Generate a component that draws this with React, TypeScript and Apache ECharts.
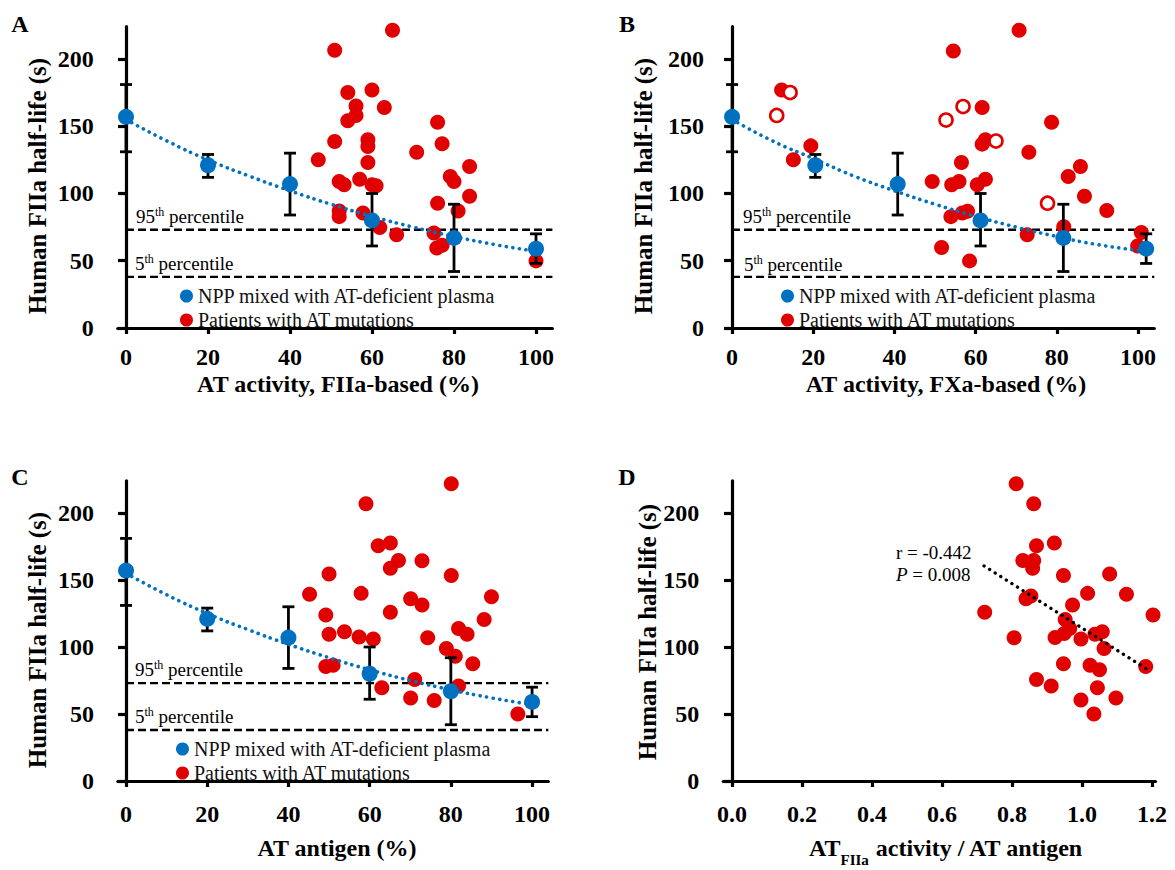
import React, { useEffect, useRef } from "react";
import * as echarts from "echarts";

const FONT = '"Liberation Serif", "Times New Roman", serif';
const RED = "#E00000";
const BLUE = "#0070C0";

const NAME_NPP = "NPP mixed with AT-deficient plasma";
const NAME_PAT = "Patients with AT mutations";

// NPP dilution series (means and SD bounds)
const NPP_X_A = [0, 20, 40, 60, 80, 100];
const NPP_X_B = [0, 20.5, 40.8, 61.2, 81.6, 102];
const NPP_X_C = [0, 20, 40, 60, 80, 100];
const NPP_MEAN = [157, 121, 107, 80, 67, 59];
const NPP_LOW = [131, 112, 84, 61, 42, 48];
const NPP_HIGH = [181, 129, 130, 100, 92, 70];

// dotted trend lines
const TREND_A = [[0, 155], [10, 139], [20, 125], [30, 113], [40, 102], [50, 92], [60, 83], [70, 75], [80, 68], [90, 62], [100, 57]];
const TREND_B = [[0, 155], [10, 139], [20, 126], [30, 113], [40, 102], [50, 92], [60, 83], [70, 75], [80, 68], [90, 62], [102, 57]];
const TREND_C = [[0, 155], [10, 139], [20, 125], [30, 113], [40, 102], [50, 92], [60, 83], [70, 75], [80, 68], [90, 62], [100, 57]];

// reference percentiles
const PCT95 = 73;
const PCT5 = 38;

// Patients
const PAT_A = [
  [50.9, 206.5], [65, 221.4], [54.1, 175], [60, 177], [56.1, 165], [63, 164], [56.1, 158], [54.1, 154],
  [50.9, 138.6], [59, 140], [59, 135], [46.9, 125], [59, 123], [70.9, 130.7], [76, 153], [77.1, 137],
  [52, 109], [53.2, 106.5], [57, 110.5], [60, 106.5], [61, 105.7], [79.1, 112.7], [80, 109], [83.8, 120],
  [83.8, 98], [76, 92.8], [81, 87], [52, 87], [52, 82.8], [57.8, 85.5], [61.9, 74.8], [66, 69.3],
  [75.1, 70.6], [75.8, 59.4], [77.1, 61.6], [100, 49.9],
];
const PAT_B_FILLED = [
  [70.7, 221.4], [54.5, 206], [12.2, 177], [61.6, 164], [78.7, 153], [19.4, 135.4], [15.1, 125], [61.6, 136.7],
  [62.4, 140], [56.5, 123], [73.1, 130.7], [49.3, 109], [54.1, 106.5], [55.9, 109], [60.4, 106.5], [62.4, 110.5],
  [82.8, 112.7], [85.8, 120], [86.8, 98], [92.3, 87.3], [53.9, 82.8], [56.7, 85.5], [58, 86.8], [51.6, 59.9],
  [58.5, 49.9], [72.7, 69.3], [81.7, 75.3], [100.8, 71], [99.9, 61],
];
const PAT_B_OPEN = [[14.3, 175], [11, 158], [56.9, 164.6], [52.7, 154.6], [65, 139], [77.7, 92.8]];
const PAT_C = [
  [80.1, 221.8], [59.1, 206.8], [62.1, 175.5], [65.1, 177.5], [67.1, 164.5], [65.1, 158.8], [72.9, 164.3],
  [50, 154.5], [80.1, 153.3], [45.2, 139.3], [57.9, 140], [70.1, 136], [72.9, 131.3], [90, 137.5],
  [49.2, 123.8], [65.1, 126], [88.2, 120.5], [50, 109.5], [53.8, 111.3], [57.4, 107.5], [60.9, 106],
  [74.3, 106.8], [81.9, 113.8], [84, 109.5], [78.9, 98.8], [81.1, 93], [85.4, 87.5], [49.2, 85.5],
  [51, 86.3], [63, 69.5], [71.1, 75.8], [81.9, 70.8], [70.1, 62], [75.9, 60], [96.5, 50],
];
const PAT_D = [
  [0.812, 221.8], [0.862, 206.8], [0.87, 175.5], [0.921, 177.5], [0.831, 164.5], [0.862, 164.5], [0.859, 158.8],
  [0.947, 153.3], [1.079, 154.5], [1.016, 140], [1.127, 139.3], [0.84, 136], [0.854, 138], [0.973, 131.3],
  [0.722, 126], [1.203, 123.8], [0.952, 120.5], [0.806, 106.8], [0.923, 107], [0.949, 110], [0.965, 113.8],
  [0.997, 106], [1.037, 109.5], [1.058, 111.3], [1.063, 98.8], [0.947, 87.5], [1.023, 86.3], [1.05, 83],
  [1.182, 85.5], [0.87, 75.8], [0.912, 70.8], [1.044, 69.5], [0.997, 60.5], [1.097, 62], [1.034, 50],
];
const FIT_D = [[0.72, 160.5], [1.184, 83.7]];

const X_TICKS = [0, 20, 40, 60, 80, 100];
const D_TICKS = [0, 0.2, 0.4, 0.6, 0.8, 1.0, 1.2];
const Y_TICKS = [0, 50, 100, 150, 200];

const zip = (xs: number[], ys: number[]) => xs.map((x, i) => [x, ys[i]]);
const zip3 = (xs: number[], a: number[], b: number[]) => xs.map((x, i) => [x, a[i], b[i]]);

const labelStyle = { fontFamily: FONT, fontWeight: "bold", fontSize: 24, color: "#000" };

function xAxisCfg(g: number, min: number, max: number, ticks: number[], margin: number, fmt?: any) {
  return {
    type: "value", gridIndex: g, min, max,
    axisLine: { show: true, onZero: false, lineStyle: { color: "#000", width: 3.2 } },
    axisTick: { show: true, customValues: ticks, length: 6, lineStyle: { color: "#000", width: 3.2 } },
    axisLabel: { ...labelStyle, customValues: ticks, margin, lineHeight: 22, ...(fmt ? { formatter: fmt } : {}) },
    splitLine: { show: false },
  };
}
function yAxisCfg(g: number) {
  return {
    type: "value", gridIndex: g, min: 0, max: 224,
    axisLine: { show: true, onZero: true, lineStyle: { color: "#000", width: 3.2 } },
    axisTick: { show: true, customValues: Y_TICKS, length: 8, lineStyle: { color: "#000", width: 3.2 } },
    axisLabel: { ...labelStyle, customValues: Y_TICKS, margin: 24 },
    splitLine: { show: false },
  };
}

function errorBars(g: number, xs: number[]) {
  return {
    type: "custom", name: "NPP SD", xAxisIndex: g, yAxisIndex: g, z: 3, silent: true,
    data: zip3(xs, NPP_LOW, NPP_HIGH),
    encode: { x: 0, y: [1, 2] },
    renderItem: (params: any, api: any) => {
      const x = api.value(0);
      const lo = api.coord([x, api.value(1)]);
      const hi = api.coord([x, api.value(2)]);
      const w = 6;
      const st = { stroke: "#000", lineWidth: 2.8 };
      return {
        type: "group",
        children: [
          { type: "line", shape: { x1: lo[0], y1: lo[1], x2: hi[0], y2: hi[1] }, style: st },
          { type: "line", shape: { x1: lo[0] - w, y1: lo[1], x2: lo[0] + w, y2: lo[1] }, style: st },
          { type: "line", shape: { x1: hi[0] - w, y1: hi[1], x2: hi[0] + w, y2: hi[1] }, style: st },
        ],
      };
    },
  };
}

function pctLine(g: number, v: number) {
  return {
    type: "line", name: "pct", xAxisIndex: g, yAxisIndex: g, z: 1, silent: true,
    symbol: "none", data: [[0, v], [104, v]],
    lineStyle: { color: "#000", width: 2.4, type: [8, 4] },
  };
}

function panelSeries(g: number, xs: number[], trend: number[][], pat: number[][]) {
  return [
    pctLine(g, PCT95),
    pctLine(g, PCT5),
    {
      type: "scatter", name: NAME_PAT, xAxisIndex: g, yAxisIndex: g, z: 2,
      symbolSize: 15, itemStyle: { color: RED, opacity: 1 }, data: pat,
    },
    errorBars(g, xs),
    {
      type: "scatter", name: NAME_NPP, xAxisIndex: g, yAxisIndex: g, z: 4,
      symbolSize: 16, itemStyle: { color: BLUE, opacity: 1 }, data: zip(xs, NPP_MEAN),
    },
    {
      type: "line", name: "NPP trend", xAxisIndex: g, yAxisIndex: g, z: 5, silent: true,
      smooth: true, symbol: "none", data: trend,
      lineStyle: { color: BLUE, width: 3.6, type: [0.1, 6.5], cap: "round" },
    },
  ];
}

const legendCfg = (left: number, top: number) => ({
  left, top, orient: "vertical", itemGap: 4, itemWidth: 13, itemHeight: 13, icon: "circle",
  selectedMode: false,
  data: [NAME_NPP, NAME_PAT],
  textStyle: { fontFamily: FONT, fontSize: 20, color: "#111" },
});

const rich = {
  n: { fontFamily: FONT, fontSize: 19, color: "#111", lineHeight: 20 },
  s: { fontFamily: FONT, fontSize: 12, color: "#111", verticalAlign: "top", lineHeight: 20 },
};

function txt(x: number, y: number, text: string, opts: any = {}) {
  return {
    type: "text", x, y, rotation: opts.rotation || 0, silent: true,
    style: {
      text, fill: "#000", fontFamily: FONT, fontSize: opts.fontSize || 24, fontWeight: opts.fontWeight || "bold",
      align: opts.align || "center", verticalAlign: "middle", rich: opts.rich,
    },
  };
}

export default function App() {
  const ref = useRef<HTMLDivElement>(null);
  useEffect(() => {
    if (!ref.current) return;
    const chart = echarts.init(ref.current, null, { renderer: "svg" });
    const option: any = {
      animation: false,
      backgroundColor: "#fff",
      grid: [
        { left: 117.8, top: 26.7, width: 434.6, height: 301.3 },
        { left: 728, top: 26.7, width: 426.3, height: 301.3 },
        { left: 117.9, top: 480.8, width: 430.4, height: 300.2 },
        { left: 723.25, top: 480.8, width: 432.25, height: 300.2 },
      ],
      xAxis: [
        xAxisCfg(0, -2, 104, X_TICKS, 18),
        xAxisCfg(1, -1, 104, X_TICKS, 18),
        xAxisCfg(2, -2, 104, X_TICKS, 22),
        xAxisCfg(3, -0.025, 1.21, D_TICKS, 22, (v: number) => v.toFixed(1)),
      ],
      yAxis: [yAxisCfg(0), yAxisCfg(1), yAxisCfg(2), yAxisCfg(3)],
      legend: [legendCfg(175, 281), legendCfg(776, 281), legendCfg(171, 734)],
      series: [
        ...panelSeries(0, NPP_X_A, TREND_A, PAT_A),
        ...panelSeries(1, NPP_X_B, TREND_B, PAT_B_FILLED),
        {
          type: "scatter", name: "Patients (open)", xAxisIndex: 1, yAxisIndex: 1, z: 2,
          symbolSize: 13, itemStyle: { color: "#fff", borderColor: RED, borderWidth: 2.6, opacity: 1 }, data: PAT_B_OPEN,
        },
        ...panelSeries(2, NPP_X_C, TREND_C, PAT_C),
        {
          type: "scatter", name: NAME_PAT, xAxisIndex: 3, yAxisIndex: 3, z: 2,
          symbolSize: 15, itemStyle: { color: RED, opacity: 1 }, data: PAT_D,
        },
        {
          type: "line", name: "fit", xAxisIndex: 3, yAxisIndex: 3, z: 5, silent: true,
          symbol: "none", data: FIT_D,
          lineStyle: { color: "#000", width: 3.3, type: [0.1, 6.5], cap: "round" },
        },
      ],
      graphic: [
        txt(20, 24, "A", { fontSize: 24 }),
        txt(627, 24, "B", { fontSize: 24 }),
        txt(20, 477, "C", { fontSize: 24 }),
        txt(627, 477, "D", { fontSize: 24 }),
        txt(37, 186, "Human FIIa half-life (s)", { rotation: Math.PI / 2, fontSize: 25 }),
        txt(643, 186, "Human FIIa half-life (s)", { rotation: Math.PI / 2, fontSize: 25 }),
        txt(37, 640, "Human FIIa half-life (s)", { rotation: Math.PI / 2, fontSize: 25 }),
        txt(647, 632, "Human FIIa half-life (s)", { rotation: Math.PI / 2, fontSize: 25 }),
        txt(338, 384, "AT activity, FIIa-based (%)"),
        txt(946, 384, "AT activity, FXa-based (%)"),
        txt(337, 848, "AT antigen (%)"),
        txt(946, 848, "{m|AT}{sub|FIIa}{m| activity / AT antigen}", {
          rich: {
            m: { fontFamily: FONT, fontSize: 24, fontWeight: "bold", color: "#000", lineHeight: 26 },
            sub: { fontFamily: FONT, fontSize: 15, fontWeight: "bold", color: "#000", verticalAlign: "bottom", lineHeight: 26, padding: [0, 0, -6, 0] },
          },
        }),
        txt(136, 216, "{n|95}{s|th}{n| percentile}", { align: "left", rich }),
        txt(135, 263, "{n|5}{s|th}{n| percentile}", { align: "left", rich }),
        txt(743, 216, "{n|95}{s|th}{n| percentile}", { align: "left", rich }),
        txt(744, 264, "{n|5}{s|th}{n| percentile}", { align: "left", rich }),
        txt(135, 669, "{n|95}{s|th}{n| percentile}", { align: "left", rich }),
        txt(135, 716, "{n|5}{s|th}{n| percentile}", { align: "left", rich }),
        txt(896, 552, "r = -0.442", { align: "left", fontSize: 19, fontWeight: "normal" }),
        txt(896, 574, "{i|P}{n| = 0.008}", {
          align: "left",
          rich: {
            i: { fontFamily: FONT, fontSize: 19, fontStyle: "italic", color: "#111" },
            n: { fontFamily: FONT, fontSize: 19, color: "#111" },
          },
        }),
      ],
    };
    chart.setOption(option);
    return () => chart.dispose();
  }, []);
  return (
    <div
      ref={ref}
      style={{ position: "absolute", left: 0, top: 0, width: 1175, height: 870, background: "#fff" }}
    />
  );
}
